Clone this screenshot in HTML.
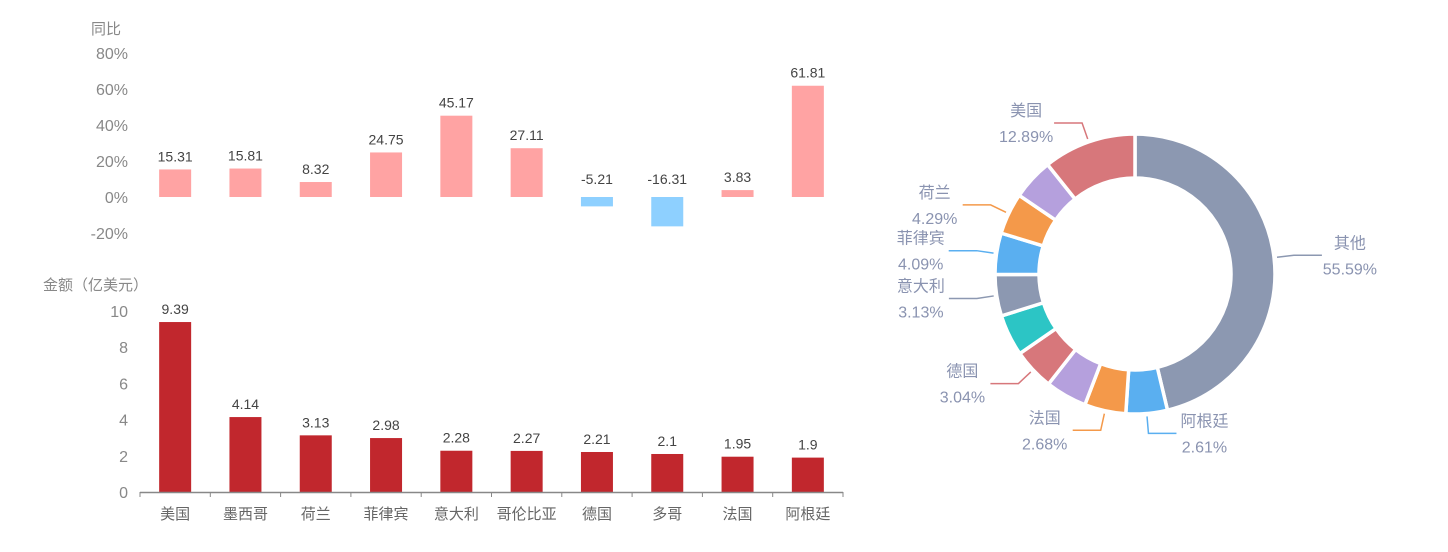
<!DOCTYPE html>
<html><head><meta charset="utf-8">
<style>
body{margin:0;background:#fff;width:1448px;height:547px;overflow:hidden;font-family:"Liberation Sans","Noto Sans CJK SC",sans-serif;}
svg text{font-family:"Liberation Sans","Noto Sans CJK SC",sans-serif;}
</style></head>
<body>
<svg id="c" width="1448" height="547"></svg>
<script>
const categories=["美国","墨西哥","荷兰","菲律宾","意大利","哥伦比亚","德国","多哥","法国","阿根廷"];
const yoyValues=[15.31,15.81,8.32,24.75,45.17,27.11,-5.21,-16.31,3.83,61.81];
const amountValues=[9.39,4.14,3.13,2.98,2.28,2.27,2.21,2.1,1.95,1.9];
const yoyTicks=[80,60,40,20,0,-20];
const amountTicks=[10,8,6,4,2,0];
const pieNames=["其他","阿根廷","法国","多哥","德国","哥伦比亚","意大利","菲律宾","荷兰","墨西哥","美国"];
const pieValues=[55.59,2.61,2.68,2.88,3.04,3.12,3.13,4.09,4.29,5.68,12.89];
const pieLabelShown=[true,true,true,false,true,false,true,true,true,false,true];

const NS="http://www.w3.org/2000/svg";
const svg=document.getElementById('c');
function mk(tag,attrs,parent){const e=document.createElementNS(NS,tag);for(const k in attrs)e.setAttribute(k,attrs[k]);(parent||svg).appendChild(e);return e;}
function txt(s,x,y,attrs,parent){const e=mk('text',Object.assign({x:x,y:y},attrs),parent);e.textContent=s;return e;}

const x0=140,x1=843,band=(x1-x0)/categories.length,barW=32;
const xc=i=>x0+band*(i+0.5);
// top chart
const yTop=v=>197-v*1.8;
const gTop=mk('g',{});


const t1=txt('同比',91,34,{fill:'#888','font-size':15},gTop);


yoyTicks.forEach(v=>{const t=txt(v+'%',128,yTop(v)+6,{fill:'#888','font-size':16,'text-anchor':'end'},gTop);

});
yoyValues.forEach((v,i)=>{
  const y=v>=0?yTop(v):yTop(0),h=Math.abs(yTop(v)-yTop(0));
  const r=mk('rect',{x:xc(i)-barW/2,y:y,width:barW,height:h,fill:v>=0?'#ffa3a3':'#8ed0ff'},gTop);
  
  
  const ly=v>=0?yTop(v)-8:yTop(0)-13;
  const t=txt(String(v),xc(i),ly,{fill:'#444','font-size':14,'text-anchor':'middle'},gTop);
  
  
});
// bottom chart
const yBot=v=>492-v*18.1;
const gBot=mk('g',{});


const t2=txt('金额（亿美元）',43,290,{fill:'#888','font-size':15},gBot);


amountTicks.forEach(v=>{const t=txt(String(v),128,yBot(v)+6,{fill:'#888','font-size':16,'text-anchor':'end'},gBot);

});
amountValues.forEach((v,i)=>{
  const r=mk('rect',{x:xc(i)-barW/2,y:yBot(v),width:barW,height:yBot(0)-yBot(v),fill:'#c1272d'},gBot);
  
  
  const t=txt(String(v),xc(i),yBot(v)-8,{fill:'#444','font-size':14,'text-anchor':'middle'},gBot);
  
  
  const c=txt(categories[i],xc(i),519,{fill:'#666','font-size':15,'text-anchor':'middle'},gBot);
  
  
});
const ax=mk('line',{x1:x0,y1:492.5,x2:x1,y2:492.5,stroke:'#888','stroke-width':1.5},gBot);


for(let i=0;i<=categories.length;i++){const tk=mk('line',{x1:x0+band*i,y1:492,x2:x0+band*i,y2:497,stroke:'#888'},gBot);

}

// donut
const cx=1135,cy=274,R=140,r0=96,minA=17.2;
const colors=['#8c98b1','#5aaff0','#f4994a','#b5a0dd','#d7777b','#2cc5c5'];
let angles=pieValues.map(()=>0);
let fixed=pieValues.map(()=>false);
for(let it=0;it<6;it++){
  const fixedSum=fixed.reduce((s,f)=>s+(f?minA:0),0);
  const freeVal=pieValues.reduce((s,v,i)=>s+(fixed[i]?0:v),0);
  const k=(360-fixedSum)/freeVal;
  pieValues.forEach((v,i)=>{if(!fixed[i]&&v*k<minA)fixed[i]=true;});
  const fs2=fixed.reduce((s,f)=>s+(f?minA:0),0);
  const fv2=pieValues.reduce((s,v,i)=>s+(fixed[i]?0:v),0);
  const k2=(360-fs2)/fv2;
  angles=pieValues.map((v,i)=>fixed[i]?minA:v*k2);
}
const gPie=mk('g',{});


const pt=(a,rad)=>[cx+rad*Math.sin(a*Math.PI/180),cy-rad*Math.cos(a*Math.PI/180)];
let a=0;
pieValues.forEach((v,i)=>{
  const a0=a,a1=a+angles[i];a=a1;
  const [p1x,p1y]=pt(a0,R),[p2x,p2y]=pt(a1,R),[p3x,p3y]=pt(a1,r0),[p4x,p4y]=pt(a0,r0);
  const lg=a1-a0>180?1:0;
  const col=colors[i%6];
  const p=mk('path',{d:`M${p1x},${p1y}A${R},${R} 0 ${lg} 1 ${p2x},${p2y}L${p3x},${p3y}A${r0},${r0} 0 ${lg} 0 ${p4x},${p4y}Z`,fill:col,stroke:'#fff','stroke-width':3.5},gPie);
  
  
  if(!pieLabelShown[i])return;
  const m=(a0+a1)/2;
  const [sx,sy]=pt(m,R+3),[ex,ey]=pt(m,R+20);
  const right=Math.sin(m*Math.PI/180)>=0;
  const hx=ex+(right?28:-28);
  const l=mk('polyline',{points:`${sx},${sy} ${ex},${ey} ${hx},${ey}`,fill:'none',stroke:col,'stroke-width':1.5},gPie);
  
  
  const lx=hx+(right?28:-28);
  const t=txt(pieNames[i],lx,ey-7,{fill:'#8a93b0','font-size':16,'text-anchor':'middle'},gPie);
  
  
  const t3=txt(v.toFixed(2)+'%',lx,ey+19,{fill:'#8a93b0','font-size':16,'text-anchor':'middle'},gPie);
  
  
});
</script>
</body></html>
